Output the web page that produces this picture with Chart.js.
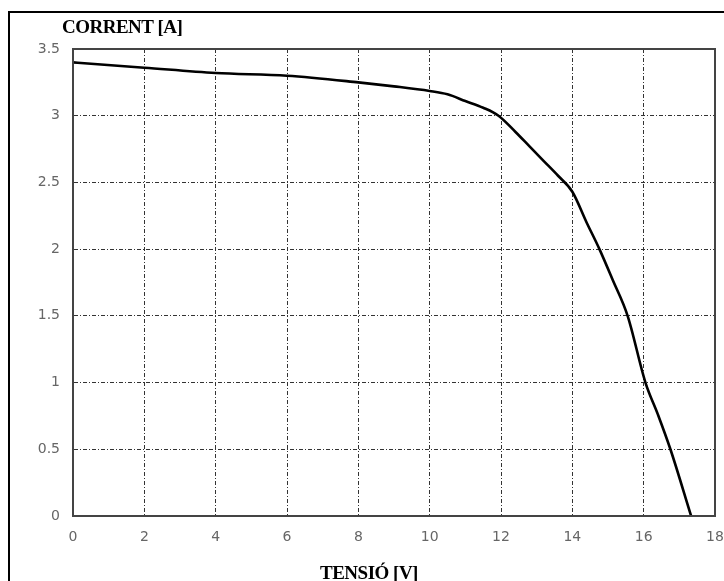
<!DOCTYPE html>
<html>
<head>
<meta charset="utf-8">
<script src="https://cdn.jsdelivr.net/npm/chart.js@4.4.1/dist/chart.umd.min.js"></script>
<style>
  html, body { margin: 0; padding: 0; background: #fff; }
  body { width: 724px; height: 581px; position: relative; overflow: hidden; }
  #frame { position: absolute; left: 8px; top: 11px; width: 800px; height: 700px;
           border-left: 2px solid #000; border-top: 2px solid #000; }
  #wrap { position: absolute; left: 0; top: 0; width: 724px; height: 581px; }
  .lbl { position: absolute; font-family: "Liberation Serif", "DejaVu Serif", serif;
         font-weight: bold; font-size: 19px; line-height: 19px; color: #000; white-space: nowrap; }
  #ylab { left: 62px; top: 17px; letter-spacing: -0.5px; }
  #xlab { left: 320px; top: 563px; letter-spacing: -0.5px; }
</style>
</head>
<body>
<div id="frame"></div>
<div id="wrap"><canvas id="iv" width="724" height="581"></canvas></div>
<div class="lbl" id="ylab">CORRENT [A]</div>
<div class="lbl" id="xlab">TENSIÓ [V]</div>
<script>
// I-V curve
const voltage = [0, 2, 4, 6, 8, 9, 10, 10.5, 11, 11.5, 11.93, 12.4, 12.8, 13.2, 13.6, 14.0, 14.4, 14.76, 15.13, 15.55, 16.05, 16.4, 16.75, 17.33];
const current = [3.40, 3.36, 3.32, 3.30, 3.25, 3.22, 3.185, 3.16, 3.11, 3.06, 3.0, 2.88, 2.77, 2.66, 2.55, 2.43, 2.2, 2.0, 1.77, 1.5, 1.0, 0.76, 0.5, 0];

const xTicks = [0, 2, 4, 6, 8, 10, 12, 14, 16, 18];
const yTicks = [0, 0.5, 1, 1.5, 2, 2.5, 3, 3.5];

const points = voltage.map((v, i) => ({ x: v, y: current[i] }));

// box round the plot area (Chart.js only draws left and bottom)
const boxPlugin = {
  id: "box",
  afterDatasetsDraw(chart) {
    const a = chart.chartArea;
    const ctx = chart.ctx;
    ctx.save();
    ctx.strokeStyle = "#444";
    ctx.lineWidth = 2;
    ctx.strokeRect(a.left, a.top, a.right - a.left, a.bottom - a.top);
    ctx.restore();
  },
};

const gridStyle = {
  color: "#333",
  lineWidth: 1,
  drawTicks: false,
};

const tickFont = { family: "DejaVu Sans", size: 14 };

const ctx = document.getElementById("iv").getContext("2d");

const ivChart = new Chart(ctx, {
  type: "line",
  data: {
    datasets: [
      {
        data: points,
        borderColor: "#000",
        borderWidth: 2.6,
        pointRadius: 0,
        cubicInterpolationMode: "monotone",
        fill: false,
      },
    ],
  },
  options: {
    responsive: false,
    animation: false,
    layout: { padding: { left: 0, top: 49, right: 0, bottom: 0 } },
    plugins: { legend: { display: false }, tooltip: { enabled: false } },
    scales: {
      x: {
        type: "linear",
        min: 0,
        max: 18,
        afterBuildTicks: (s) => { s.ticks = xTicks.map((v) => ({ value: v })); },
        afterFit: (s) => {
          s.height = 65;
          s.paddingLeft = 0;
          s.paddingRight = 9;
        },
        grid: gridStyle,
        border: { display: true, color: "#444", width: 2, dash: [4, 2, 1, 2] },
        ticks: { padding: 13, color: "#666", font: tickFont, callback: (v) => String(v) },
      },
      y: {
        min: 0,
        max: 3.5,
        afterBuildTicks: (s) => { s.ticks = yTicks.map((v) => ({ value: v })); },
        afterFit: (s) => { s.width = 73; },
        grid: gridStyle,
        border: { display: true, color: "#444", width: 2, dash: [4, 2, 1, 2] },
        ticks: { padding: 13, color: "#666", font: tickFont, callback: (v) => String(v) },
      },
    },
  },
  plugins: [boxPlugin],
});
</script>
</body>
</html>
